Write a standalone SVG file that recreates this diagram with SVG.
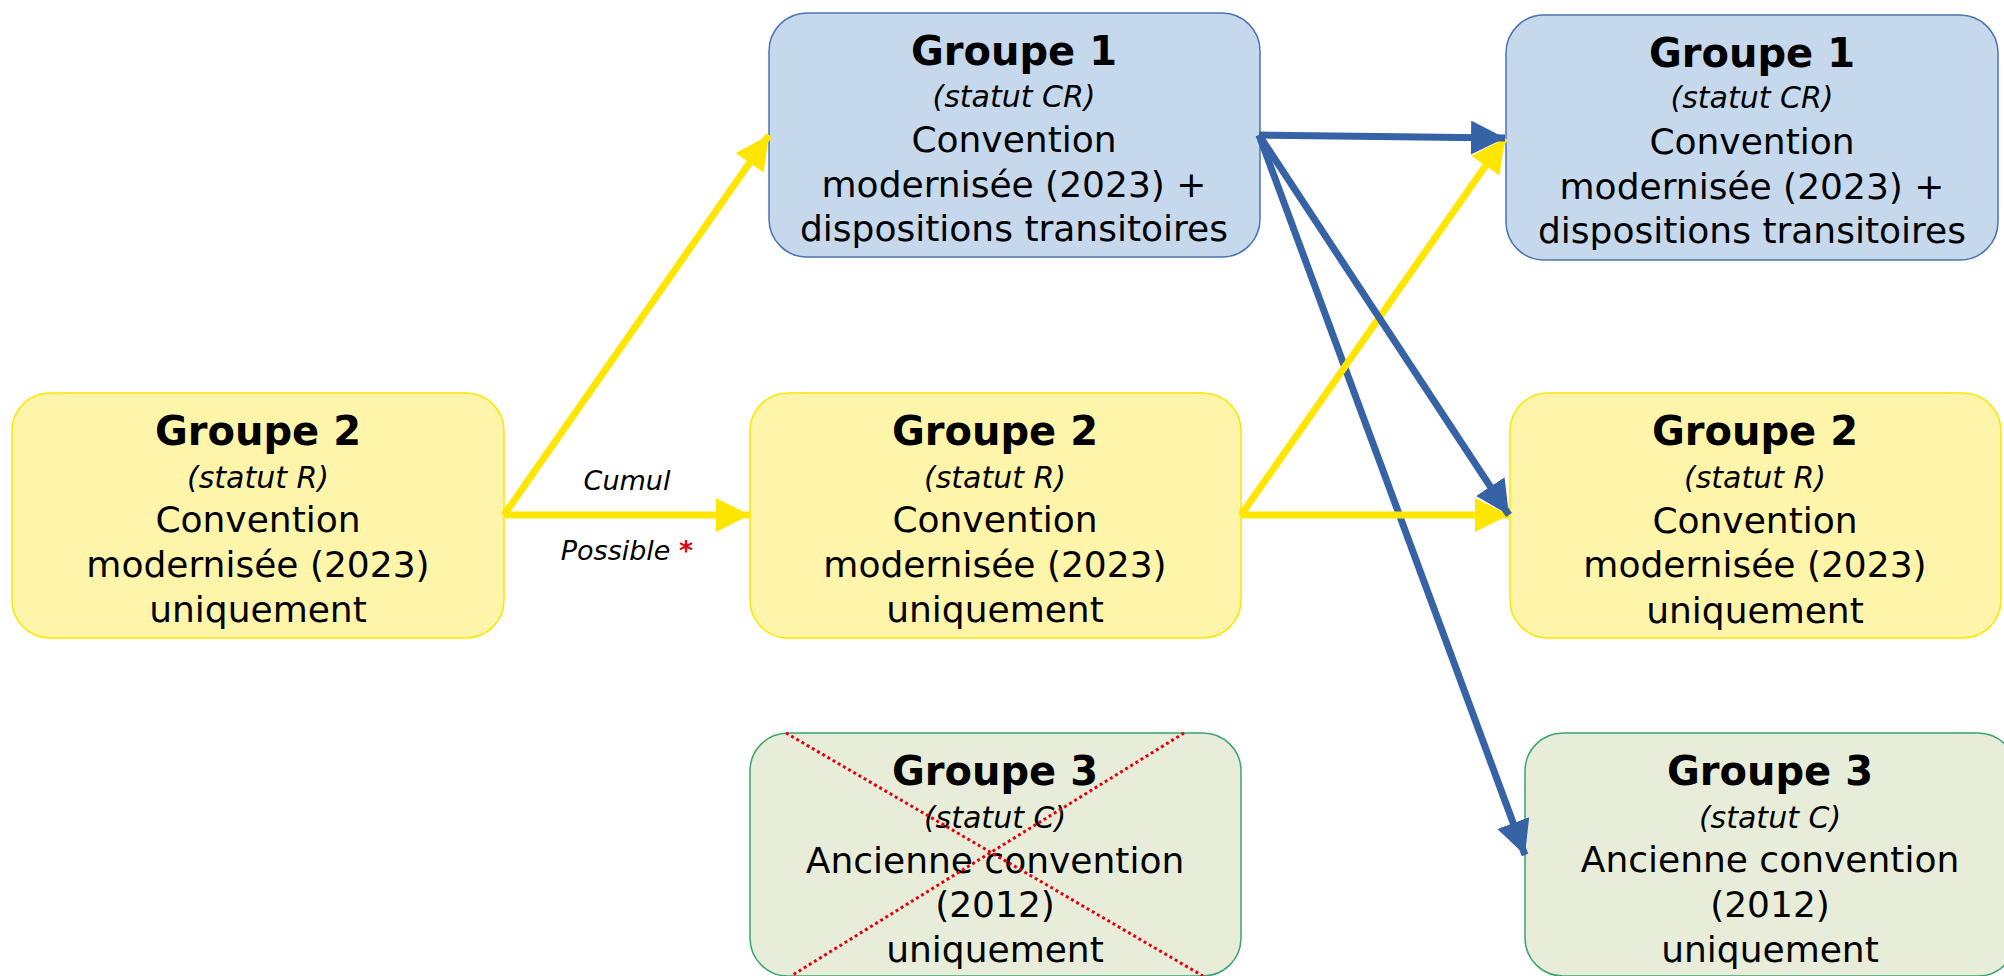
<svg xmlns="http://www.w3.org/2000/svg" width="2004" height="976" viewBox="0 0 2004 976">
<style>
.t{font-family:"DejaVu Sans",sans-serif;text-anchor:middle;fill:#000}
.h{font-size:40px;font-weight:bold}
.s{font-size:30px;font-style:italic}
.b{font-size:36px}
.lbl{font-family:"DejaVu Sans",sans-serif;font-size:27px;font-style:italic;text-anchor:middle;fill:#000}
.y{fill:#FEF5AB;stroke:#FFE500;stroke-width:1.5}
.bl{fill:#C5D8EC;stroke:#4A74B4;stroke-width:1.5}
.g{fill:#E8EDDA;stroke:#3AA56C;stroke-width:1.5}
.cy{stroke:#FFE600;stroke-width:7;fill:none;marker-end:url(#ay)}
.cb{stroke:#3563A5;stroke-width:7;fill:none;marker-end:url(#ab)}
</style>
<defs>
<marker id="ay" markerUnits="userSpaceOnUse" markerWidth="36" markerHeight="36" refX="34" refY="17" orient="auto"><path d="M0,0 L34,17 L0,34 z" fill="#FFE600"/></marker>
<marker id="ab" markerUnits="userSpaceOnUse" markerWidth="36" markerHeight="36" refX="34" refY="17" orient="auto"><path d="M0,0 L34,17 L0,34 z" fill="#3563A5"/></marker>
</defs>
<rect width="2004" height="976" fill="#fff"/>

<g id="g2-left">
<rect class="y" x="12" y="393" width="492" height="245" rx="38"/>
<text class="t h" x="258" y="445">Groupe 2</text>
<text class="t s" x="258" y="488">(statut R)</text>
<text class="t b" x="258" y="532">Convention</text>
<text class="t b" x="258" y="577">modernisée (2023)</text>
<text class="t b" x="258" y="622">uniquement</text>
</g>

<g id="g1-mid">
<rect class="bl" x="769" y="13" width="491" height="244" rx="38"/>
<text class="t h" x="1014" y="65">Groupe 1</text>
<text class="t s" x="1014" y="107">(statut CR)</text>
<text class="t b" x="1014" y="152">Convention</text>
<text class="t b" x="1014" y="197">modernisée (2023) +</text>
<text class="t b" x="1014" y="241">dispositions transitoires</text>
</g>

<g id="g2-mid">
<rect class="y" x="750" y="393" width="491" height="245" rx="38"/>
<text class="t h" x="995" y="445">Groupe 2</text>
<text class="t s" x="995" y="488">(statut R)</text>
<text class="t b" x="995" y="532">Convention</text>
<text class="t b" x="995" y="577">modernisée (2023)</text>
<text class="t b" x="995" y="622">uniquement</text>
</g>

<g id="g3-mid">
<rect class="g" x="750" y="733" width="491" height="243" rx="38"/>
<text class="t h" x="995" y="785">Groupe 3</text>
<text class="t s" x="995" y="828">(statut C)</text>
<text class="t b" x="995" y="873">Ancienne convention</text>
<text class="t b" x="995" y="917">(2012)</text>
<text class="t b" x="995" y="962">uniquement</text>
<g stroke="#E3000F" stroke-width="3" stroke-dasharray="3 3" fill="none">
<line x1="786" y1="733" x2="1203" y2="976"/>
<line x1="1184" y1="733" x2="791" y2="976"/>
</g>
</g>

<g id="g1-right">
<rect class="bl" x="1506" y="15" width="492" height="245" rx="38"/>
<text class="t h" x="1752" y="67">Groupe 1</text>
<text class="t s" x="1752" y="108">(statut CR)</text>
<text class="t b" x="1752" y="154">Convention</text>
<text class="t b" x="1752" y="199">modernisée (2023) +</text>
<text class="t b" x="1752" y="243">dispositions transitoires</text>
</g>

<g id="g2-right">
<rect class="y" x="1510" y="393" width="491" height="245" rx="38"/>
<text class="t h" x="1755" y="445">Groupe 2</text>
<text class="t s" x="1755" y="488">(statut R)</text>
<text class="t b" x="1755" y="533">Convention</text>
<text class="t b" x="1755" y="577">modernisée (2023)</text>
<text class="t b" x="1755" y="623">uniquement</text>
</g>

<g id="g3-right">
<rect class="g" x="1525" y="733" width="491" height="243" rx="38"/>
<text class="t h" x="1770" y="785">Groupe 3</text>
<text class="t s" x="1770" y="828">(statut C)</text>
<text class="t b" x="1770" y="872">Ancienne convention</text>
<text class="t b" x="1770" y="917">(2012)</text>
<text class="t b" x="1770" y="962">uniquement</text>
</g>

<g id="connectors">
<line class="cb" x1="1259" y1="135" x2="1525" y2="855"/>
<line class="cy" x1="504" y1="515" x2="769" y2="135"/>
<line class="cy" x1="504" y1="515" x2="750" y2="515"/>
<line class="cy" x1="1241" y1="515" x2="1505" y2="138"/>
<line class="cy" x1="1241" y1="515" x2="1509" y2="515"/>
<line class="cb" x1="1259" y1="135" x2="1505" y2="138"/>
<line class="cb" x1="1259" y1="135" x2="1509" y2="515"/>
</g>

<g id="edge-label">
<text class="lbl" x="627" y="490">Cumul</text>
<text class="lbl" x="627" y="560">Possible <tspan fill="#E1000F" font-weight="bold">*</tspan></text>
</g>
</svg>
